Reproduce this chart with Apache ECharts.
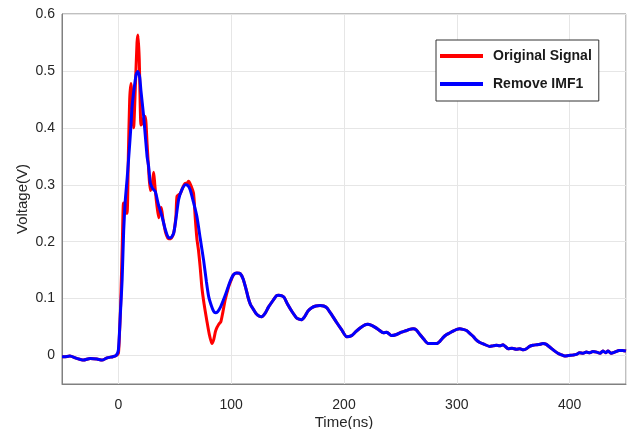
<!DOCTYPE html>
<html>
<head>
<meta charset="utf-8">
<script src="https://cdn.jsdelivr.net/npm/echarts@6/dist/echarts.min.js"></script>
<style>
  html, body { margin: 0; padding: 0; background: #fff; }
  #chart { width: 630px; height: 429px; }
</style>
</head>
<body>
<div id="chart"></div>
<script>
// Series names
const seriesNames = ["Original Signal", "Remove IMF1"];

// Remove IMF1 (blue) - time in ns, voltage in V
const blueTime = [
  -50, -48, -43, -37, -31, -25, -19, -14.5, -10, -5, -2, 0, 1.8, 3.3, 4.7, 6, 7.7, 9, 11, 12.1,
  14, 15.7, 17.2, 18.8, 20, 22.4, 25.4, 26.8, 28.3, 30.5, 32.7, 35.5, 38.7, 41.5, 44.5, 46.5,
  49, 51, 53.4, 56, 59.3, 61.5, 63.7, 66.5, 69.6, 72.6, 75.5, 78, 80, 82.5, 84.4, 86, 88, 90.5,
  93, 96, 99, 102, 105, 108, 110.5, 113, 115, 117, 120, 122, 125, 127, 130, 133, 137.5, 140,
  142, 145, 147, 150, 154, 158, 160, 162.5, 165, 168, 171.4, 175, 178.8, 182, 184.7, 189,
  193.5, 198, 202.4, 206.8, 210, 214, 218.6, 221, 224.5, 228, 231, 234.8, 238, 242, 246.6,
  251, 255.5, 258, 261.3, 264, 267.3, 271, 274.6, 278, 282, 285, 288, 291, 294, 296.7, 300,
  302.7, 305.5, 308.6, 311.5, 314.4, 317, 320.4, 324, 329.2, 332, 335, 338, 341, 343, 345.4,
  349, 352.8, 356, 359, 361.7, 364.5, 367.5, 371, 374, 376.4, 379, 382.3, 386, 389.6, 393,
  395.6, 399, 402.9, 406, 408.8, 412, 414.8, 418, 420.6, 424, 427, 429.5, 432, 434, 436.9,
  440, 444, 447, 450
];
const blueVolt = [
  -0.002, -0.002, -0.001, -0.005, -0.008, -0.005, -0.006, -0.008, -0.004, -0.002, 0.000, 0.010,
  0.075, 0.133, 0.220, 0.270, 0.310, 0.344, 0.400, 0.437, 0.470, 0.493, 0.499, 0.490, 0.465,
  0.420, 0.350, 0.332, 0.303, 0.293, 0.288, 0.265, 0.244, 0.222, 0.207, 0.207, 0.215, 0.240,
  0.274, 0.290, 0.300, 0.299, 0.291, 0.270, 0.244, 0.205, 0.168, 0.130, 0.104, 0.087, 0.078,
  0.075, 0.077, 0.085, 0.097, 0.113, 0.130, 0.142, 0.145, 0.144, 0.135, 0.118, 0.102, 0.090,
  0.080, 0.074, 0.069, 0.068, 0.074, 0.085, 0.098, 0.105, 0.106, 0.105, 0.102, 0.090, 0.077,
  0.066, 0.064, 0.063, 0.068, 0.078, 0.084, 0.087, 0.088, 0.087, 0.084, 0.072, 0.058, 0.045,
  0.033, 0.035, 0.041, 0.048, 0.054, 0.055, 0.053, 0.049, 0.045, 0.040, 0.041, 0.035, 0.037,
  0.041, 0.044, 0.046, 0.047, 0.045, 0.037, 0.028, 0.021, 0.021, 0.021, 0.025, 0.032, 0.037,
  0.040, 0.043, 0.046, 0.047, 0.046, 0.044, 0.039, 0.034, 0.028, 0.023, 0.020, 0.016, 0.017,
  0.018, 0.017, 0.019, 0.016, 0.012, 0.013, 0.011, 0.012, 0.010, 0.012, 0.016, 0.018, 0.019,
  0.020, 0.021, 0.020, 0.015, 0.009, 0.004, 0.001, -0.001, 0.000, 0.001, 0.002, 0.005, 0.004,
  0.006, 0.005, 0.007, 0.006, 0.004, 0.008, 0.005, 0.008, 0.004, 0.006, 0.009, 0.009, 0.008
];

// Original Signal (red) where it differs from the blue curve
const redTime = [
  -2, 0, 0.8, 2, 3.5, 4.5, 6, 7.7, 8.8, 10, 11.2, 12.3, 13.5, 15, 16.5, 17.4, 18.5, 20, 21.5,
  23, 23.9, 25.5, 27, 28.3, 29.5, 30.5, 31.3, 32.3, 33.5, 35.7, 37, 38, 39.5, 42, 44.5, 46.5,
  49, 51, 52, 55, 57, 59, 61, 62.2, 64, 66.6, 68, 69.6, 71, 72.5, 74, 76, 78.5, 80.5, 82.9,
  84.5, 86, 87.3, 89, 90.9, 92.5, 94.7, 97.6, 100
];
const redVolt = [
  0.000, 0.004, 0.030, 0.090, 0.200, 0.268, 0.252, 0.250, 0.350, 0.450, 0.478, 0.440, 0.400,
  0.470, 0.550, 0.563, 0.520, 0.405, 0.410, 0.420, 0.420, 0.370, 0.320, 0.290, 0.295, 0.310,
  0.322, 0.300, 0.275, 0.242, 0.255, 0.260, 0.240, 0.215, 0.205, 0.205, 0.215, 0.245, 0.280,
  0.285, 0.295, 0.302, 0.303, 0.306, 0.300, 0.285, 0.245, 0.205, 0.185, 0.155, 0.120, 0.090,
  0.060, 0.038, 0.021, 0.028, 0.042, 0.049, 0.055, 0.060, 0.075, 0.098, 0.120, 0.133
];

const pairs = (ts, vs) => ts.map((t, i) => [t, vs[i]]);
const bluePts = pairs(blueTime, blueVolt);
const redPts = bluePts.filter((p) => p[0] < -2)
  .concat(pairs(redTime, redVolt))
  .concat(bluePts.filter((p) => p[0] > 100));

const chart = echarts.init(document.getElementById("chart"));
const font = "'Liberation Sans', Arial, sans-serif";

chart.setOption({
  animation: false,
  textStyle: { fontFamily: font },
  grid: {
    left: 62, right: 4, top: 14, bottom: 45,
    outerBoundsMode: "none",
    show: true, borderColor: "#808080", borderWidth: 1
  },
  legend: {
    data: seriesNames,
    orient: "vertical",
    left: 436, top: 40,
    padding: [9, 7, 10, 4],
    itemGap: 14,
    itemWidth: 43, itemHeight: 4,
    icon: "rect",
    backgroundColor: "#fff",
    borderColor: "#333", borderWidth: 1,
    textStyle: { fontSize: 14, fontWeight: "bold", color: "#1a1a1a", padding: [0, 0, 0, 5] }
  },
  xAxis: {
    type: "value",
    min: -50, max: 450, splitNumber: 5,
    name: "Time(ns)", nameLocation: "middle", nameGap: 31,
    nameMoveOverlap: false,
    nameTextStyle: { fontSize: 15, color: "#262626" },
    axisLine: { onZero: false, lineStyle: { color: "#808080" } },
    axisTick: { show: false },
    axisLabel: { fontSize: 14, color: "#262626", margin: 14, showMinLabel: false, showMaxLabel: false },
    splitLine: { lineStyle: { color: "#e6e6e6" } }
  },
  yAxis: {
    type: "value",
    min: -0.05, max: 0.6, splitNumber: 6,
    name: "Voltage(V)", nameLocation: "middle", nameGap: 32,
    nameMoveOverlap: false,
    nameTextStyle: { fontSize: 15, color: "#262626" },
    axisLine: { show: true, onZero: false, lineStyle: { color: "#808080" } },
    axisTick: { show: false },
    axisLabel: { fontSize: 14, color: "#262626", margin: 7, showMinLabel: false },
    splitLine: { lineStyle: { color: "#e6e6e6" } }
  },
  series: [
    {
      name: seriesNames[0], type: "line", data: redPts,
      showSymbol: false, smooth: 0.2,
      itemStyle: { color: "#ff0000" },
      lineStyle: { color: "#ff0000", width: 3 }
    },
    {
      name: seriesNames[1], type: "line", data: bluePts,
      showSymbol: false, smooth: 0.2,
      itemStyle: { color: "#0000ff" },
      lineStyle: { color: "#0000ff", width: 3 }
    }
  ]
});
</script>
</body>
</html>
